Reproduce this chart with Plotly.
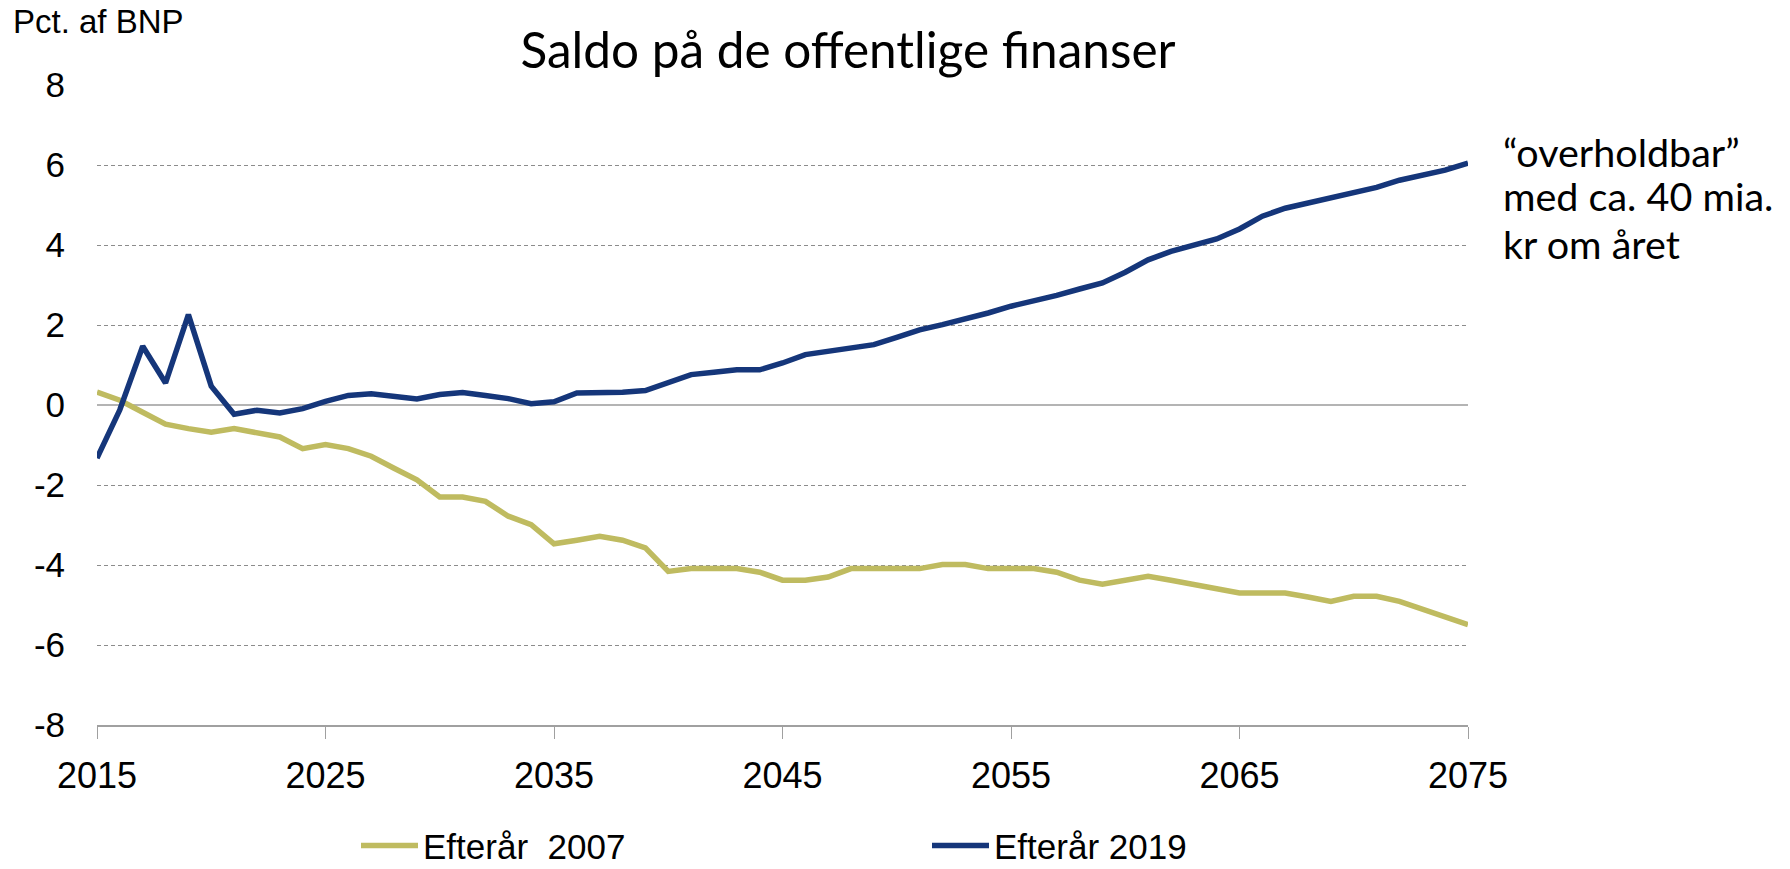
import plotly.graph_objects as go

years = list(range(2015, 2076))

efteraar_2007 = [
    0.32, 0.12, -0.18, -0.48, -0.59, -0.68, -0.59, -0.68, -0.80, -1.09,
    -0.99, -1.09, -1.28, -1.58, -1.87, -2.30, -2.30, -2.41, -2.78, -2.99,
    -3.47, -3.38, -3.28, -3.38, -3.57, -4.16, -4.09, -4.09, -4.09, -4.18,
    -4.38, -4.38, -4.30, -4.09, -4.09, -4.09, -4.09, -3.99, -3.99, -4.09,
    -4.09, -4.09, -4.18, -4.38, -4.48, -4.38, -4.28, -4.38, -4.48, -4.59,
    -4.70, -4.70, -4.70, -4.80, -4.91, -4.78, -4.78, -4.91, -5.10, -5.28,
    -5.49,
]

efteraar_2019 = [
    -1.33, -0.12, 1.47, 0.55, 2.26, 0.47, -0.23, -0.13, -0.20, -0.09,
    0.09, 0.24, 0.28, 0.22, 0.15, 0.26, 0.31, 0.24, 0.16, 0.03,
    0.08, 0.30, 0.30, 0.32, 0.36, 0.55, 0.76, 0.82, 0.88, 0.88,
    1.05, 1.26, 1.34, 1.42, 1.51, 1.69, 1.88, 2.01, 2.15, 2.30,
    2.47, 2.60, 2.74, 2.90, 3.05, 3.32, 3.63, 3.84, 4.00, 4.15,
    4.40, 4.72, 4.92, 5.05, 5.20, 5.32, 5.44, 5.62, 5.73, 5.87,
    6.05,
]

x_ticks = [2015, 2025, 2035, 2045, 2055, 2065, 2075]
y_ticks = [-8, -6, -4, -2, 0, 2, 4, 6, 8]

series_names = ["Efterår  2007", "Efterår 2019"]
series_colors = ["#BFBB60", "#15367A"]

title_text = "Saldo på de offentlige finanser"
unit_text = "Pct. af BNP"
note_lines = ["“overholdbar”", "med ca. 40 mia.", "kr om året"]

ARIAL = "Liberation Sans, Arial, sans-serif"
CAL = "Lato, Open Sans, sans-serif"

fig = go.Figure()
for name, vals, col in zip(series_names, [efteraar_2007, efteraar_2019], series_colors):
    fig.add_trace(go.Scatter(
        x=years, y=vals, mode="lines", name=name,
        line=dict(color=col, width=5.5),
        hoverinfo="skip",
    ))

W, H = 1790, 869
PL, PR, PT, PB = 97, 1468, 85.3, 725.3
PW, PH = PR - PL, PB - PT

fig.update_layout(
    width=W, height=H,
    margin=dict(l=PL, r=W - PR, t=PT, b=H - PB, pad=0, autoexpand=False),
    plot_bgcolor="white", paper_bgcolor="white",
    title=dict(text=title_text, x=848 / W, xanchor="center",
               y=1 - 51 / H, yanchor="middle",
               font=dict(family=CAL, size=49.5, color="black")),
    font=dict(family=ARIAL, color="black"),
    showlegend=True,
    legend=dict(orientation="h", x=(356 - PL) / PW, xanchor="left",
                y=(PB - 846) / PH, yanchor="middle",
                font=dict(family=ARIAL, size=35, color="black"),
                itemwidth=57, entrywidth=499, entrywidthmode="pixels",
                bgcolor="rgba(0,0,0,0)", tracegroupgap=0),
    xaxis=dict(range=[2015, 2075], tickvals=x_ticks, ticktext=[str(v) for v in x_ticks],
               showgrid=False, zeroline=False,
               showline=True, linecolor="#A0A0A0", linewidth=2,
               ticks="outside", ticklen=12, tickcolor="#A0A0A0", tickwidth=1,
               tickfont=dict(family=ARIAL, size=36, color="black"),
               ticklabelstandoff=6, fixedrange=True),
    yaxis=dict(range=[-8, 8], tickvals=y_ticks, ticktext=[str(v) for v in y_ticks],
               showgrid=True, gridcolor="#8C8C8C", gridwidth=1, griddash="4px,3px",
               zeroline=True, zerolinecolor="#B4B4B4", zerolinewidth=2,
               showline=False, ticks="",
               tickfont=dict(family=ARIAL, size=35, color="black"),
               ticklabelstandoff=31, fixedrange=True),
)

fig.add_annotation(text=unit_text, xref="paper", yref="paper",
                   x=(11 - PL) / PW, y=(PB - 22) / PH,
                   xanchor="left", yanchor="middle", showarrow=False,
                   font=dict(family=ARIAL, size=33, color="black"))

for line, yc in zip(note_lines, [152, 196, 244]):
    fig.add_annotation(text=line, xref="paper", yref="paper",
                       x=(1501 - PL) / PW, y=(PB - yc) / PH,
                       xanchor="left", yanchor="middle", align="left", showarrow=False,
                       font=dict(family=CAL, size=39.5, color="black"))

fig.write_html("out.html", config={"displayModeBar": False},
               post_script="document.body.style.margin='0px';document.body.style.overflow='hidden';")
